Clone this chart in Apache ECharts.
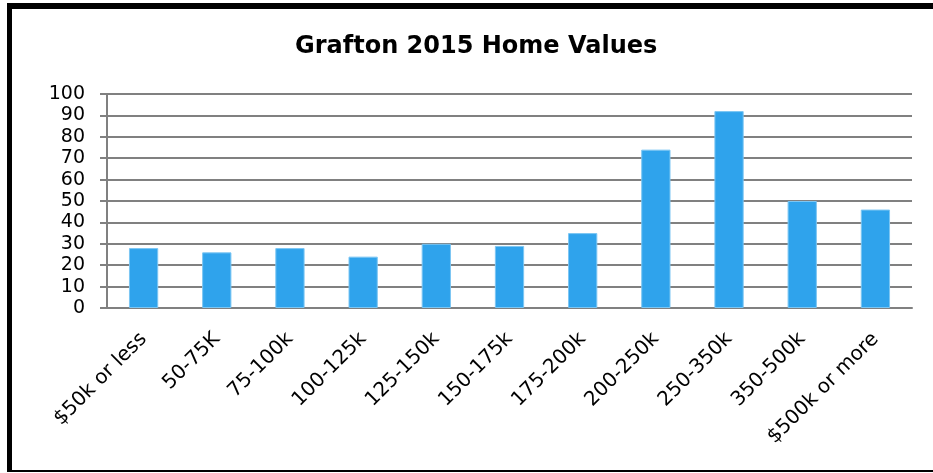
<!DOCTYPE html>
<html>
<head>
<meta charset="utf-8">
<script src="https://cdn.jsdelivr.net/npm/echarts@6/dist/echarts.min.js"></script>
<style>
  html, body { margin: 0; padding: 0; background: #fff; }
  #main { width: 933px; height: 473px; }
</style>
</head>
<body>
<div id="main"></div>
<script>
var categories = ['$50k or less', '50-75K', '75-100k', '100-125k', '125-150k', '150-175k',
    '175-200k', '200-250k', '250-350k', '350-500k', '$500k or more'];
var homeCounts = [28, 26, 28, 24, 30, 29, 35, 74, 92, 50, 46];
var yTicks = { min: 0, max: 100, step: 10 };

var myChart = echarts.init(document.getElementById('main'));

var option = {
    backgroundColor: '#fff',
    animation: false,
    title: {
        text: 'Grafton 2015 Home Values',
        left: 290,
        top: 30,
        textStyle: { fontFamily: 'DejaVu Sans', fontWeight: 'bold', fontSize: 24, color: '#000' }
    },
    grid: { left: 107, right: 21, top: 94, bottom: 165 },
    xAxis: {
        type: 'category',
        data: categories,
        axisLine: { lineStyle: { color: '#808080', width: 2 } },
        axisTick: { length: 7, lineStyle: { color: '#808080', width: 2 } },
        axisLabel: {
            rotate: 45, margin: 28, interval: 0,
            fontFamily: 'DejaVu Sans', fontSize: 20, color: '#000'
        }
    },
    yAxis: {
        type: 'value',
        min: yTicks.min, max: yTicks.max, interval: yTicks.step,
        axisLine: { show: true, lineStyle: { color: '#808080', width: 2 } },
        axisTick: { show: true, length: 7, lineStyle: { color: '#808080', width: 2 } },
        splitLine: { lineStyle: { color: '#808080', width: 2 } },
        axisLabel: { margin: 22, fontFamily: 'DejaVu Sans', fontSize: 19, color: '#000' }
    },
    series: [{
        type: 'bar',
        data: homeCounts,
        barWidth: '40%',
        itemStyle: { color: '#2FA3EC', borderColor: '#7cc6f3', borderWidth: 1 }
    }],
    graphic: [
        { type: 'line', shape: { x1: 7, y1: 6, x2: 933, y2: 6 }, style: { stroke: '#000', lineWidth: 6 } },
        { type: 'line', shape: { x1: 9.5, y1: 3, x2: 9.5, y2: 472 }, style: { stroke: '#000', lineWidth: 5 } },
        { type: 'line', shape: { x1: 7, y1: 471, x2: 933, y2: 471 }, style: { stroke: '#000', lineWidth: 2 } }
    ]
};

myChart.setOption(option);
</script>
</body>
</html>
